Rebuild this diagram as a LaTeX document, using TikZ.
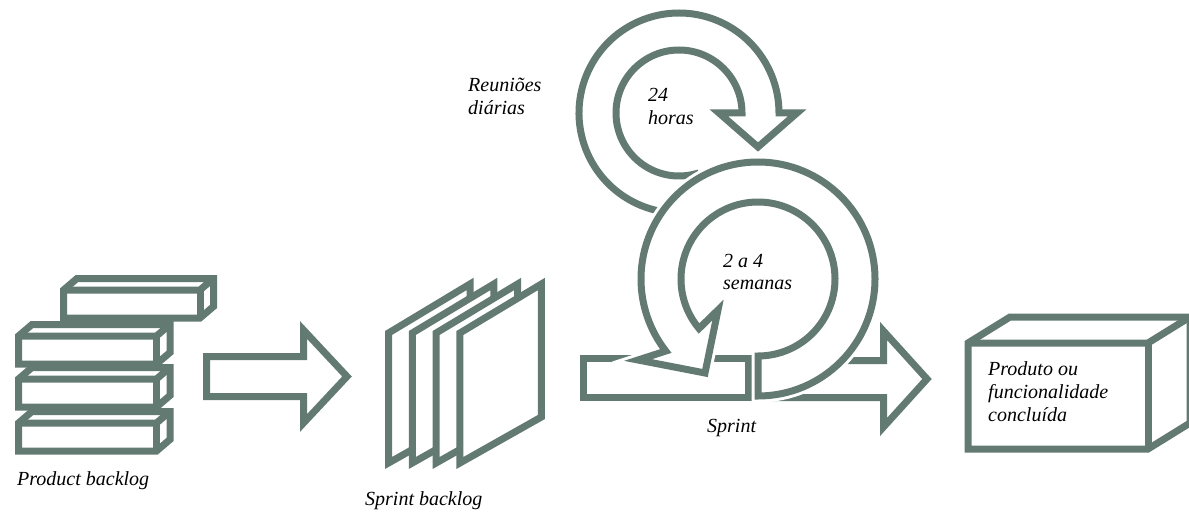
\documentclass[tikz,border=0pt]{standalone}
\usepackage{fontspec}
\setmainfont{Liberation Serif}
\usetikzlibrary{calc}

\definecolor{scrumgray}{RGB}{98,122,114}

\tikzset{
  outline/.style={draw=scrumgray, line width=7pt, fill=white, line join=miter},
  edge/.style={draw=scrumgray, line width=7pt, line join=miter},
  halo/.style={preaction={draw=white, line width=13pt}},
  caption/.style={font=\itshape\fontsize{20}{23}\selectfont, inner sep=0pt, align=left, anchor=base west}
}

% a box seen from front: x, top y, width, height, depth x, depth y
\newcommand{\cuboid}[6]{%
  \draw[outline] (#1,#2-#4) -- (#1,#2) -- ++(#5,#6) -- ++(#3,0) -- ++(0,-#4) -- ++(-#5,-#6) -- cycle;
  \draw[edge] (#1,#2) -- ++(#3,0) -- ++(#5,#6);
  \draw[edge] (#1+#3,#2) -- ++(0,-#4);
}

\begin{document}
\begin{tikzpicture}[x=1pt, y=1pt]
  \useasboundingbox (0,0) rectangle (1189,-513);

  % Product backlog (bars from bottom to top)
  \cuboid{18.5}{-423}{138}{28}{13.5}{11.5}
  \cuboid{18.5}{-379}{138}{28}{13.5}{11.5}
  \cuboid{18.5}{-336}{138}{28}{13.5}{11.5}
  \cuboid{63.5}{-290}{136.5}{28}{13.5}{11.5}
  \node[caption] (pb) at (17,-485) {Product backlog};

  % First block arrow
  \draw[outline] (206.5,-356.5) -- (303.5,-356.5) -- (303.5,-330) -- (347,-376.5)
    -- (303.5,-423) -- (303.5,-396.5) -- (206.5,-396.5) -- cycle;

  % Sprint backlog sheets
  \foreach \i in {0,...,3}
    \draw[outline] (388.5+23.8*\i,-463) -- ++(0,130) -- ++(81.5,49) -- ++(0,-133) -- cycle;
  \node[caption] (sb) at (365,-505) {Sprint backlog};

  % Sprint bar
  \draw[outline] (583,-358) rectangle (748,-397);
  \node[caption] (sp) at (707,-432) {Sprint};

  % Output arrow (behind the sprint circle)
  \draw[outline] (765,-360.5) -- (883.5,-360.5) -- (883.5,-331) -- (927,-379)
    -- (883.5,-427) -- (883.5,-397.5) -- (765,-397.5) -- cycle;

  % Daily cycle: 24 horas
  \coordinate (C1) at (679,-113);
  \draw[outline] ($(C1)+(285:100)$) arc[start angle=285, end angle=0, radius=100pt]
    -- (797,-113) -- (758,-147) -- (719,-113)
    -- ($(C1)+(0:63)$) arc[start angle=0, end angle=285, radius=63pt] -- cycle;

  % Sprint cycle: 2 a 4 semanas
  \coordinate (C2) at (758,-279);
  \draw[outline, halo] ($(C2)+(-90:117)$) arc[start angle=-90, end angle=218, radius=117pt]
    -- (638,-360) -- (705,-373) -- (718,-310)
    -- ($(C2)+(220:77)$) arc[start angle=220, end angle=-90, radius=77pt] -- cycle;

  % Texts of the cycles (base = last line)
  \node[caption] (rd) at (468,-115) {Reuniões\\diárias};
  \node[caption] (hr) at (648,-125) {24\\horas};
  \node[caption] (sm) at (723,-290) {2 a 4\\semanas};

  % Finished product
  \cuboid{968}{-343}{180}{106}{42}{26}
  \node[caption] (pr) at (988,-421) {Produto ou\\funcionalidade\\concluída};
\end{tikzpicture}
\end{document}
